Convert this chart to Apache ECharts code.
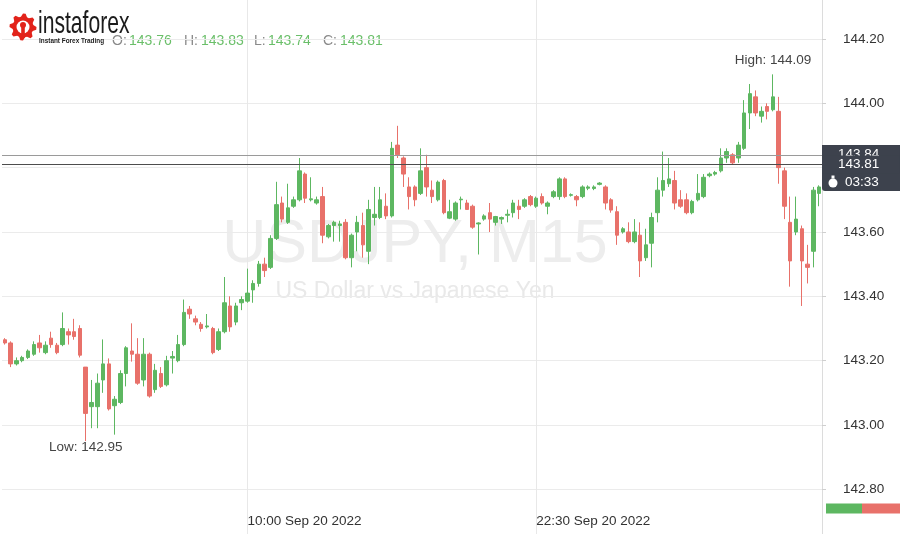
<!DOCTYPE html>
<html><head><meta charset="utf-8">
<script src="https://cdn.jsdelivr.net/npm/echarts@6/dist/echarts.min.js"></script>
<style>html,body{margin:0;padding:0;background:#fff}#c{width:900px;height:534px}</style>
</head><body><div id="c"></div>
<script>
// ---- data (USDJPY, M15) ----
const opens = [143.265,143.255,143.19,143.20,143.21,143.22,143.255,143.225,143.27,143.248,
143.25,143.29,143.29,143.30,143.18,143.057,143.057,143.14,143.19,143.06,
143.07,143.16,143.23,143.22,143.14,143.22,143.11,143.16,143.125,143.208,
143.20,143.25,143.36,143.33,143.313,143.305,143.30,143.235,143.29,143.37,
143.32,143.38,143.385,143.42,143.44,143.50,143.49,143.58,143.69,143.63,
143.68,143.70,143.78,143.70,143.69,143.71,143.585,143.62,143.62,143.63,
143.52,143.60,143.62,143.54,143.645,143.645,143.68,143.65,143.87,143.83,
143.74,143.74,143.72,143.80,143.73,143.70,143.76,143.643,143.64,143.70,
143.69,143.68,143.625,143.64,143.66,143.63,143.64,143.652,143.66,143.68,
143.68,143.71,143.68,143.71,143.68,143.71,143.71,143.765,143.714,143.71,
143.71,143.736,143.735,143.748,143.74,143.70,143.663,143.60,143.60,143.57,
143.59,143.52,143.565,143.66,143.73,143.75,143.76,143.70,143.70,143.66,
143.70,143.71,143.775,143.78,143.79,143.83,143.84,143.83,143.86,143.97,
144.02,143.96,143.99,143.98,143.975,143.79,143.63,143.60,143.61,143.50,
143.54,143.72];
const closes = [143.255,143.19,143.20,143.21,143.23,143.25,143.24,143.248,143.25,143.225,
143.30,143.28,143.275,143.217,143.036,143.07,143.13,143.19,143.05,143.08,
143.16,143.24,143.22,143.13,143.22,143.09,143.17,143.12,143.20,143.213,
143.25,143.35,143.345,143.32,143.30,143.308,143.225,143.29,143.38,143.305,
143.37,143.39,143.41,143.44,143.50,143.48,143.58,143.685,143.64,143.675,
143.70,143.79,143.705,143.703,143.70,143.59,143.62,143.63,143.625,143.52,
143.59,143.63,143.56,143.67,143.655,143.70,143.65,143.86,143.84,143.78,
143.71,143.70,143.79,143.74,143.71,143.755,143.66,143.663,143.69,143.702,
143.67,143.615,143.628,143.65,143.64,143.648,143.645,143.655,143.69,143.67,
143.70,143.685,143.705,143.69,143.69,143.725,143.765,143.71,143.716,143.70,
143.74,143.74,143.74,143.752,143.69,143.668,143.59,143.61,143.57,143.60,
143.51,143.56,143.645,143.73,143.76,143.765,143.69,143.68,143.66,143.695,
143.72,143.77,143.78,143.785,143.83,143.85,143.815,143.87,143.97,144.03,
143.97,143.975,143.975,144.02,143.80,143.68,143.51,143.64,143.51,143.49,
143.73,143.74];
const lows = [143.25,143.18,143.185,143.195,143.205,143.215,143.225,143.22,143.24,143.22,
143.245,143.25,143.265,143.21,142.95,142.99,142.99,143.10,143.045,142.97,
143.065,143.12,143.197,143.125,143.12,143.085,143.10,143.115,143.12,143.16,
143.195,143.245,143.33,143.31,143.29,143.30,143.22,143.23,143.285,143.29,
143.31,143.357,143.38,143.38,143.43,143.46,143.485,143.575,143.63,143.625,
143.675,143.695,143.69,143.695,143.685,143.565,143.58,143.57,143.57,143.515,
143.49,143.54,143.52,143.50,143.62,143.64,143.64,143.645,143.83,143.74,
143.67,143.68,143.715,143.71,143.69,143.695,143.655,143.64,143.635,143.67,
143.67,143.61,143.53,143.635,143.60,143.62,143.625,143.63,143.645,143.64,
143.675,143.68,143.675,143.685,143.655,143.705,143.70,143.705,143.71,143.68,
143.705,143.73,143.73,143.745,143.67,143.66,143.56,143.595,143.565,143.565,
143.46,143.51,143.49,143.63,143.71,143.74,143.67,143.675,143.655,143.655,
143.695,143.705,143.77,143.775,143.785,143.815,143.81,143.815,143.855,143.92,
143.96,143.94,143.95,143.975,143.75,143.64,143.43,143.59,143.37,143.44,
143.49,143.68];
const highs = [143.27,143.26,143.21,143.215,143.235,143.26,143.28,143.26,143.29,143.255,
143.35,143.30,143.33,143.31,143.18,143.14,143.16,143.266,143.207,143.09,
143.17,143.245,143.316,143.27,143.27,143.225,143.19,143.18,143.215,143.23,
143.28,143.39,143.37,143.34,143.32,143.345,143.305,143.30,143.46,143.40,
143.38,143.40,143.486,143.45,143.51,143.52,143.59,143.756,143.71,143.75,
143.71,143.83,143.785,143.77,143.71,143.74,143.625,143.635,143.635,143.64,
143.595,143.65,143.66,143.70,143.74,143.74,143.72,143.88,143.93,143.835,
143.77,143.745,143.86,143.84,143.76,143.76,143.765,143.70,143.695,143.71,
143.70,143.685,143.63,143.655,143.69,143.65,143.648,143.67,143.70,143.70,
143.705,143.715,143.71,143.72,143.695,143.73,143.77,143.77,143.72,143.715,
143.745,143.745,143.745,143.755,143.745,143.705,143.68,143.615,143.63,143.64,
143.63,143.61,143.66,143.77,143.85,143.83,143.79,143.73,143.72,143.70,
143.78,143.78,143.785,143.79,143.86,143.86,143.845,143.88,144.01,144.06,
144.04,143.99,144.00,144.09,144.02,143.80,143.71,143.71,143.62,143.56,
143.74,143.745];
const xTickLabels = ['10:00 Sep 20 2022', '22:30 Sep 20 2022'];
const yMin = 142.6, yMax = 144.4, yStep = 0.2;
const headerLabels = ['O:', 'H:', 'L:', 'C:'];
const headerValues = [143.76, 143.83, 143.74, 143.81];
const priceLines = [143.84, 143.81];
const timerText = '03:33';
const titleText = 'USDJPY, M15';
const subtitleText = 'US Dollar vs Japanese Yen';

// ---- categories: 15-minute bars starting Sep 19 2022 23:30 ----
const MONTHS = ['Jan','Feb','Mar','Apr','May','Jun','Jul','Aug','Sep','Oct','Nov','Dec'];
const pad = n => (n < 10 ? '0' : '') + n;
const t0 = Date.UTC(2022, 8, 19, 23, 30);
const categories = opens.map((_, i) => {
  const d = new Date(t0 + i * 15 * 60000);
  return pad(d.getUTCHours()) + ':' + pad(d.getUTCMinutes()) + ' ' + MONTHS[d.getUTCMonth()] + ' ' + d.getUTCDate() + ' ' + d.getUTCFullYear();
});
const candles = opens.map((o, i) => [o, closes[i], lows[i], highs[i]]);
const hiIdx = highs.indexOf(Math.max(...highs));
const loIdx = lows.indexOf(Math.min(...lows));

const UP = '#5db761', DOWN = '#e8716a';
const F = 'Liberation Sans, Arial, sans-serif';

// gear polygon for logo
const gear = [];
for (let k = 0; k < 32; k++) {
  const a = (k / 32) * Math.PI * 2;
  const r = (Math.floor(k / 2) % 2 === 0) ? 13.5 : 10.5;
  gear.push([23 + r * Math.cos(a), 27 + r * Math.sin(a)]);
}

const headerX = [112, 184, 254, 323];
const headerGraphics = [];
headerLabels.forEach((lab, i) => {
  headerGraphics.push({type:'text', x: headerX[i], y: 41.5, style:{text: lab, fill:'#8a8a8a', font:'14px ' + F, verticalAlign:'middle'}});
  headerGraphics.push({type:'text', x: headerX[i] + (lab === 'L:' ? 14 : 17), y: 41.5, style:{text: headerValues[i].toFixed(2), fill:'#6abf69', font:'14px ' + F, verticalAlign:'middle'}});
});

const chart = echarts.init(document.getElementById('c'), null, {renderer:'canvas'});
chart.setOption({
  animation: false,
  backgroundColor: '#ffffff',
  grid: {left: 2, right: 78, top: -25.38, bottom: -19.68, outerBoundsMode: 'none', containLabel: false},
  xAxis: {
    type: 'category', data: categories, boundaryGap: true, offset: -39,
    axisLine: {show: false}, axisTick: {show: false},
    axisLabel: {interval: (i, v) => xTickLabels.includes(v), align: 'left', margin: 0, color: '#333', fontSize: 13.5, fontFamily: F},
    splitLine: {show: true, interval: (i, v) => xTickLabels.includes(v), alignWithLabel: true, lineStyle: {color: '#e8e8e8'}}
  },
  yAxis: {
    type: 'value', position: 'right', min: yMin, max: yMax, interval: yStep,
    axisLine: {show: true, lineStyle: {color: '#dcdcdc'}},
    axisTick: {show: true, length: 4, lineStyle: {color: '#cfcfcf'}},
    axisLabel: {margin: 21, color: '#333', fontSize: 13.5, fontFamily: F, formatter: v => v.toFixed(2)},
    splitLine: {lineStyle: {color: '#ebebeb'}}
  },
  graphic: [
    {type:'text', x: 415, y: 245, z: -10, style:{text: titleText, fill:'#ededed', font:'61px ' + F, textAlign:'center', verticalAlign:'middle'}},
    {type:'text', x: 415, y: 292, z: -10, style:{text: subtitleText, fill:'#e9e9e9', font:'23px ' + F, textAlign:'center', verticalAlign:'middle'}},
    {type:'polygon', shape:{points: gear}, style:{fill:'#e2231a'}, z: 10},
    {type:'circle', shape:{cx: 23, cy: 27, r: 6.5}, style:{fill:'#ffffff'}, z: 11},
    {type:'rect', shape:{x: 21.2, y: 26, width: 3.6, height: 12}, style:{fill:'#e2231a'}, z: 12},
    {type:'circle', shape:{cx: 23, cy: 25, r: 3}, style:{fill:'#e2231a'}, z: 12},
    {type:'text', x: 38, y: 8, scaleX: 0.66, z: 10, style:{text:'instaforex', fill:'#1b1b1b', font:'32px ' + F, verticalAlign:'top'}},
    {type:'text', x: 39, y: 41, scaleX: 0.8, z: 10, style:{text:'Instant Forex Trading', fill:'#222', font:'bold 8px ' + F, verticalAlign:'middle'}},
    ...headerGraphics,
    {type:'rect', shape:{x: 822, y: 145, width: 78, height: 46, r:[0,0,0,3]}, style:{fill:'#3d424d'}, z: 10},
    {type:'circle', shape:{cx: 833, cy: 183, r: 4.5}, style:{fill:'#ffffff'}, z: 30},
    {type:'rect', shape:{x: 831.5, y: 175.5, width: 3, height: 3}, style:{fill:'#ffffff'}, z: 30},
    {type:'text', x: 845, y: 182, z: 30, style:{text: timerText, fill:'#ffffff', font:'13.5px ' + F, verticalAlign:'middle'}},
    {type:'rect', shape:{x: 826, y: 503.5, width: 36, height: 10}, style:{fill:'#5db761'}, z: 10},
    {type:'rect', shape:{x: 862, y: 503.5, width: 38, height: 10}, style:{fill:'#e8716a'}, z: 10}
  ],
  series: [{
    type: 'candlestick', data: candles, barWidth: 4,
    itemStyle: {color: UP, color0: DOWN, borderColor: UP, borderColor0: DOWN, borderWidth: 1},
    markLine: {
      silent: true, symbol: ['none', 'none'], z: 20,
      lineStyle: {type: 'solid', width: 1},
      label: {position: 'end', distance: 0, formatter: p => p.value.toFixed(2), color: '#fff', fontSize: 13.5, fontFamily: F,
              backgroundColor: '#3d424d', padding: [2, 20, 2, 16]},
      data: [
        {yAxis: priceLines[0], lineStyle: {color: '#9a9a9a'}},
        {yAxis: priceLines[1], lineStyle: {color: '#4d4d4d'}}
      ]
    },
    markPoint: {
      silent: true, symbol: 'circle', symbolSize: 1, itemStyle: {color: 'rgba(0,0,0,0)'},
      label: {show: true, color: '#444', fontSize: 13.5, fontFamily: F},
      data: [
        {coord: [categories[hiIdx], highs[hiIdx]], value: highs[hiIdx], label: {position: 'top', distance: 7, formatter: p => 'High: ' + p.value.toFixed(2)}},
        {coord: [categories[loIdx], lows[loIdx]], value: lows[loIdx], label: {position: 'bottom', distance: -1, formatter: p => 'Low: ' + p.value.toFixed(2)}}
      ]
    }
  }]
});
</script>
</body></html>
